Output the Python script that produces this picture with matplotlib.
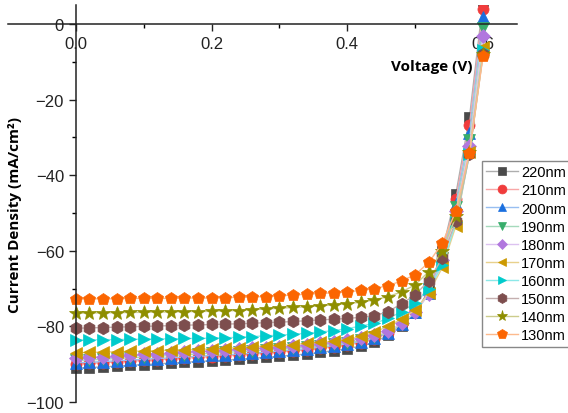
import matplotlib
matplotlib.use("Agg")
import matplotlib.pyplot as plt
import matplotlib.colors as mcolors
from matplotlib.ticker import MultipleLocator, FormatStrFormatter

voltage = [round(0.02 * i, 2) for i in range(31)]

labels = ["220nm", "210nm", "200nm", "190nm", "180nm",
          "170nm", "160nm", "150nm", "140nm", "130nm"]

j_220 = [-91.0, -90.9, -90.7, -90.5, -90.3, -90.1, -89.9, -89.7, -89.5, -89.3,
         -89.1, -88.9, -88.7, -88.4, -88.2, -87.9, -87.6, -87.3, -86.9, -86.4,
         -85.9, -85.2, -84.2, -82.3, -79.8, -76.5, -70.5, -60.0, -45.0, -24.7, 6.0]
j_210 = [-89.9, -89.8, -89.6, -89.4, -89.2, -89.0, -88.8, -88.6, -88.4, -88.2,
         -88.0, -87.8, -87.6, -87.3, -87.1, -86.8, -86.5, -86.2, -85.8, -85.4,
         -84.9, -84.3, -83.4, -81.8, -79.4, -76.3, -70.8, -60.6, -46.3, -26.7, 4.0]
j_200 = [-89.6, -89.5, -89.3, -89.1, -88.9, -88.7, -88.5, -88.3, -88.1, -87.9,
         -87.7, -87.5, -87.3, -87.1, -86.8, -86.5, -86.2, -85.9, -85.5, -85.1,
         -84.6, -84.0, -83.2, -81.7, -79.4, -76.3, -71.1, -61.4, -47.5, -28.8, 1.8]
j_190 = [-89.0, -88.9, -88.7, -88.5, -88.3, -88.1, -87.9, -87.7, -87.5, -87.3,
         -87.1, -86.9, -86.7, -86.5, -86.3, -86.0, -85.8, -85.5, -85.1, -84.7,
         -84.3, -83.7, -82.9, -81.6, -79.4, -76.3, -71.4, -62.0, -48.5, -30.8, -1.0]
j_180 = [-88.3, -88.2, -88.0, -87.8, -87.6, -87.4, -87.2, -87.0, -86.8, -86.6,
         -86.4, -86.2, -86.0, -85.8, -85.6, -85.4, -85.1, -84.8, -84.5, -84.1,
         -83.7, -83.1, -82.4, -81.2, -79.2, -76.2, -71.5, -62.5, -49.5, -32.3, -3.2]
j_170 = [-87.0, -86.9, -86.8, -86.7, -86.6, -86.5, -86.4, -86.3, -86.2, -86.1,
         -86.0, -85.8, -85.6, -85.4, -85.2, -85.0, -84.8, -84.5, -84.2, -83.9,
         -83.5, -82.6, -81.5, -80.0, -78.0, -75.7, -71.2, -64.4, -53.4, -34.0, -6.0]
j_160 = [-83.6, -83.6, -83.5, -83.5, -83.4, -83.4, -83.3, -83.3, -83.2, -83.2,
         -83.1, -83.0, -82.9, -82.7, -82.5, -82.3, -82.1, -81.8, -81.5, -81.1,
         -80.6, -79.9, -79.2, -77.9, -76.1, -73.8, -70.1, -63.8, -52.5, -34.5, -7.0]
j_150 = [-80.5, -80.4, -80.3, -80.2, -80.1, -80.0, -79.9, -79.8, -79.7, -79.6,
         -79.5, -79.4, -79.3, -79.2, -79.0, -78.9, -78.7, -78.5, -78.3, -78.1,
         -77.9, -77.6, -77.2, -76.1, -74.0, -71.7, -67.9, -61.9, -52.0, -34.5, -8.0]
j_140 = [-76.5, -76.5, -76.4, -76.4, -76.3, -76.3, -76.2, -76.2, -76.1, -76.1,
         -76.0, -75.9, -75.8, -75.6, -75.4, -75.2, -75.0, -74.8, -74.6, -74.3,
         -74.0, -73.6, -73.0, -72.1, -70.9, -69.0, -65.5, -60.0, -50.9, -34.0, -8.0]
j_130 = [-72.7, -72.7, -72.7, -72.7, -72.6, -72.6, -72.6, -72.6, -72.5, -72.5,
         -72.5, -72.4, -72.3, -72.2, -72.1, -71.9, -71.7, -71.5, -71.3, -71.1,
         -70.9, -70.5, -70.0, -69.2, -68.0, -66.3, -63.1, -58.0, -49.4, -34.1, -8.4]

series = [j_220, j_210, j_200, j_190, j_180, j_170, j_160, j_150, j_140, j_130]
colors = ["#4a4a4a", "#f03c3c", "#1a6fdf", "#37ad6b", "#b177de",
          "#cc9900", "#00cbcc", "#7d4e4e", "#8e8e00", "#fb6501"]
markers = ["s", "o", "^", "v", "D", "<", ">", "h", "*", "p"]
sizes = [7, 8, 8, 8, 7, 8, 8, 9, 10, 9]


def lighten(c, amount=0.55):
    r, g, b = mcolors.to_rgb(c)
    return (r + (1 - r) * amount, g + (1 - g) * amount, b + (1 - b) * amount)


plt.rcParams["font.family"] = ["Liberation Sans", "DejaVu Sans"]

fig = plt.figure(figsize=(5.68, 4.14), dpi=100)
ax = fig.add_axes([8 / 568, 11 / 414, 509 / 568, 397 / 414])

for vals, lab, col, mk, ms in zip(series, labels, colors, markers, sizes):
    ax.plot(voltage, vals, color=lighten(col), linewidth=1.0,
            marker=mk, markersize=ms, markerfacecolor=col,
            markeredgecolor=col, markeredgewidth=0.5, label=lab)

ax.set_xlim(-0.1, 0.65)
ax.set_ylim(-100, 5)

ax.spines["top"].set_visible(False)
ax.spines["right"].set_visible(False)
ax.spines["left"].set_position(("data", 0))
ax.spines["bottom"].set_position(("data", 0))
for sp in ("left", "bottom"):
    ax.spines[sp].set_linewidth(1.1)
    ax.spines[sp].set_color("#222222")

ax.xaxis.set_major_formatter(FormatStrFormatter("%.1f"))
ax.yaxis.set_major_locator(MultipleLocator(20))
ax.yaxis.set_minor_locator(MultipleLocator(10))
ax.set_xticks([0.0, 0.2, 0.4, 0.6])
ax.set_xticks([0.1, 0.3, 0.5], minor=True)

ax.tick_params(axis="both", which="major", direction="out", length=5,
               width=1, labelsize=12, colors="#222222")
ax.tick_params(axis="both", which="minor", direction="out", length=3, width=1)

fig.text(432 / 568, 1 - 67 / 414, "Voltage (V)", fontsize=11,
         fontweight="bold", family="Open Sans", ha="center", va="center")
fig.text(15 / 568, 1 - 215 / 414, "Current Density (mA/cm²)", fontsize=11,
         fontweight="bold", family="Open Sans", rotation=90,
         ha="center", va="center")

leg = ax.legend(loc="upper left", bbox_to_anchor=(482 / 568, 1 - 162 / 414),
                bbox_transform=fig.transFigure, borderaxespad=0,
                fancybox=False, framealpha=1, edgecolor="#888888",
                fontsize=10.5, handlelength=2.2, handletextpad=0.2,
                labelspacing=0.28, borderpad=0.3, markerscale=0.8)
leg.get_frame().set_linewidth(1.0)

fig.savefig("out.png", dpi=100)
